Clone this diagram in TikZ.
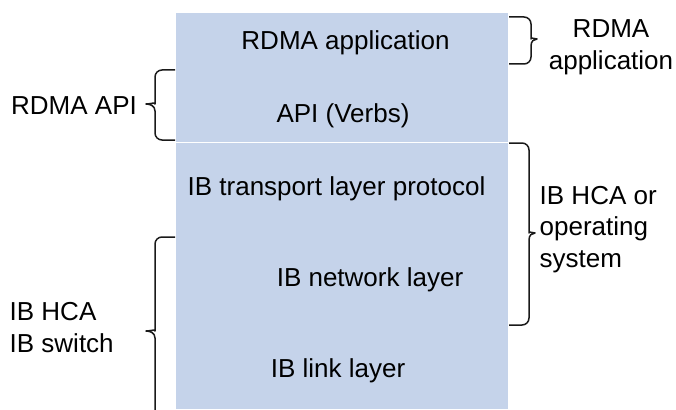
\documentclass[tikz,border=0pt]{standalone}
\usepackage{fontspec}
\setmainfont{Liberation Sans}
\definecolor{layerblue}{RGB}{197,211,234}
\definecolor{penink}{RGB}{26,26,26}
% stem brace: hook x, stem x, tip x, top y, mid y, bottom y
\newcommand\sidebrace[6]{%
  \draw[bracepen] (#1,#4) [rounded corners=7pt] -- (#2,#4) -- (#2,#5-7) [sharp corners]
    .. controls (#2,#5-2) and ({(#2+#3)/2},#5) .. (#3,#5)
    .. controls ({(#2+#3)/2},#5) and (#2,#5+2) .. (#2,#5+7)
    [rounded corners=7pt] -- (#2,#6) -- (#1,#6);}
\begin{document}
\begin{tikzpicture}[x=1pt,y=-1pt,
  lbl/.style={inner sep=0pt, font=\fontsize{26}{31}\selectfont, text=black},
  bracepen/.style={line width=1.5pt, draw=penink, line join=round}]
\useasboundingbox (0,0) rectangle (676,409);

% protocol stack
\fill[layerblue] (176,13) rectangle (508,141.8);
\fill[layerblue] (176,142.9) rectangle (508,409);

\node[lbl, anchor=base] (app) at (345.5,50) {RDMA application};
\node[lbl, anchor=base] (verbs) at (343,122) {API (Verbs)};
\node[lbl, anchor=base] (transport) at (336.5,195.5) {IB transport layer protocol};
\node[lbl, anchor=base] (network) at (370,286.5) {IB network layer};
\node[lbl, anchor=base] (link) at (338,377.5) {IB link layer};

% left-hand braces and labels
\sidebrace{175}{155}{146}{70}{104}{140}
\sidebrace{175}{155}{146}{237}{331}{425}
\node[lbl, anchor=base west] (rdmaapi) at (11,114) {RDMA API};
\node[lbl, anchor=base west] (hcaleft) at (9.5,320.5) {IB HCA};
\node[lbl, anchor=base west] (switch) at (9.5,352) {IB switch};

% right-hand braces and labels
\sidebrace{509}{531}{537}{17}{39}{64}
\sidebrace{509}{529}{535}{143}{233}{325}
\node[lbl, anchor=base] (rdmaright) at (611,38) {RDMA};
\node[lbl, anchor=base] (appright) at (611,69.5) {application};
\node[lbl, anchor=base west] (hcaright) at (539.5,204.5) {IB HCA or};
\node[lbl, anchor=base west] (operating) at (539.5,235.5) {operating};
\node[lbl, anchor=base west] (system) at (539.5,267) {system};
\end{tikzpicture}
\end{document}
